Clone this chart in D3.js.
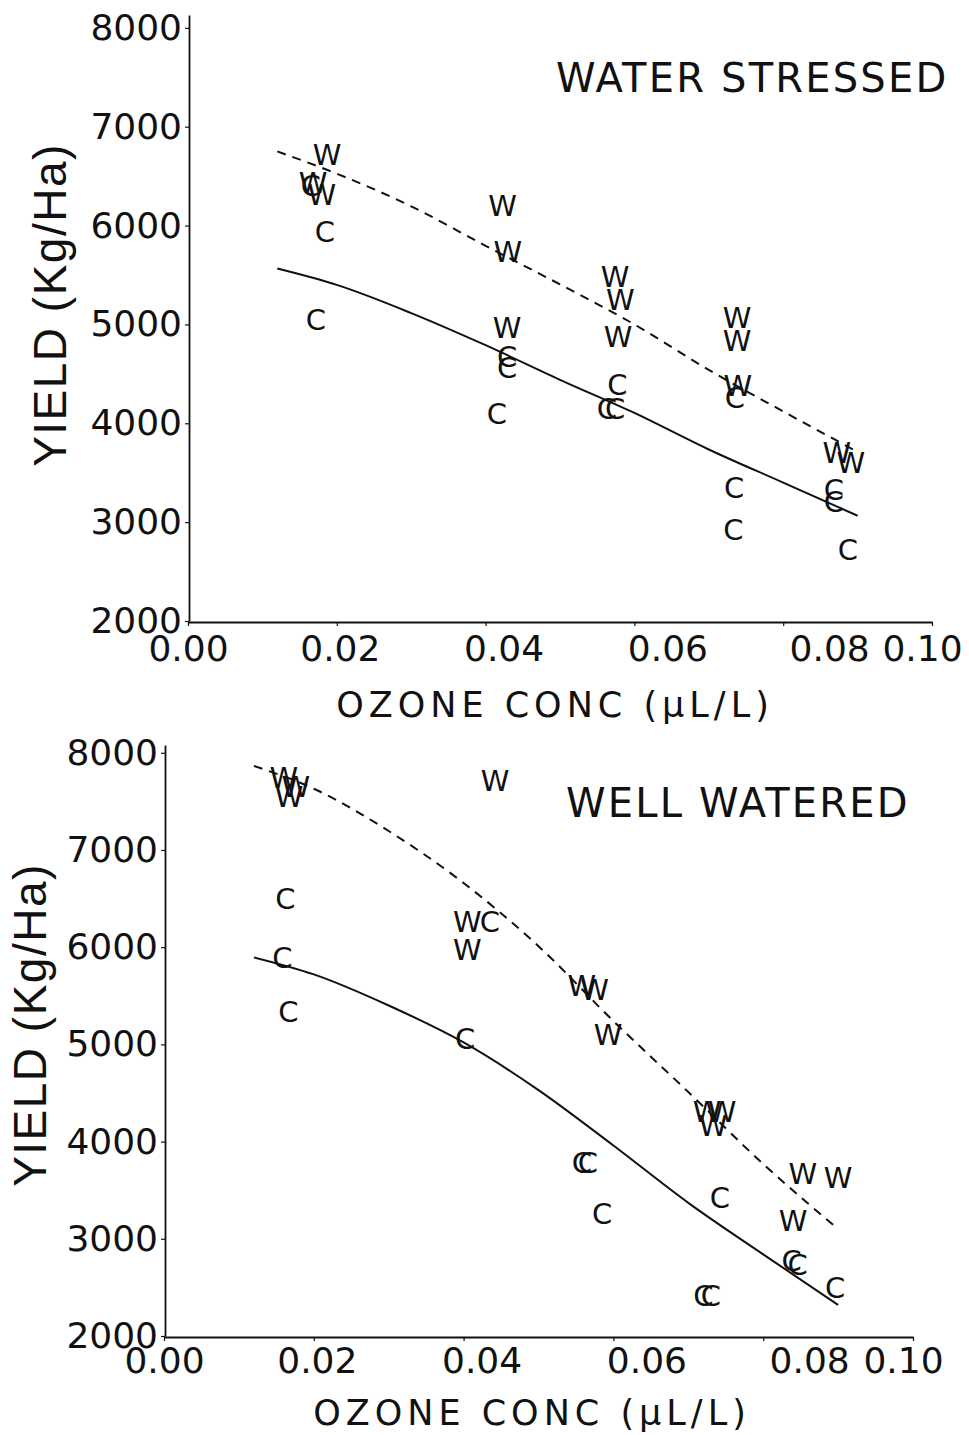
<!DOCTYPE html>
<html>
<head>
<meta charset="utf-8">
<script src="https://cdn.jsdelivr.net/npm/d3@7/dist/d3.min.js"></script>
<style>
  html, body { margin: 0; padding: 0; background: #fff; }
  svg { display: block; }
  text { fill: #111; }
</style>
</head>
<body>
<div id="chart"></div>
<script>
// tick values
const ozoneTicks = [0, 0.02, 0.04, 0.06, 0.08, 0.10]
const yieldTicks = [2000, 3000, 4000, 5000, 6000, 7000, 8000]

// fitted curves (ozone, yield)
const fitOzone = [0.012, 0.02, 0.03, 0.04, 0.05, 0.06, 0.07, 0.08, 0.09]
const stressedFitW = [6750, 6525, 6195, 5795, 5405, 5000, 4540, 4120, 3710]
const stressedFitC = [5565, 5400, 5115, 4790, 4440, 4105, 3735, 3400, 3065]
const wateredFitW = [7865, 7630, 7195, 6660, 6010, 5240, 4510, 3770, 3100]
const wateredFitC = [5895, 5720, 5400, 5020, 4530, 3960, 3370, 2840, 2320]

// observed plots [ozone, yield]
const stressedW = [
  [0.0187, 6720], [0.0168, 6430], [0.0180, 6310],
  [0.0423, 6200], [0.0430, 5735], [0.0429, 4965],
  [0.0574, 5480], [0.0581, 5250], [0.0578, 4875],
  [0.0738, 5065], [0.0738, 4835], [0.0739, 4380],
  [0.0872, 3700], [0.0891, 3600],
]
const stressedC = [
  [0.0165, 6400], [0.0184, 5940], [0.0172, 5045],
  [0.0429, 4670], [0.0429, 4560], [0.0415, 4095],
  [0.0577, 4390], [0.0563, 4145], [0.0574, 4145],
  [0.0735, 4265], [0.0734, 3345], [0.0733, 2920],
  [0.0868, 3325], [0.0868, 3205], [0.0887, 2720],
]
const wateredW = [
  [0.0160, 7750], [0.0176, 7650], [0.0167, 7545],
  [0.0442, 7710], [0.0405, 6260], [0.0405, 5980],
  [0.0558, 5610], [0.0575, 5560], [0.0593, 5105],
  [0.0725, 4305], [0.0745, 4305], [0.0733, 4170],
  [0.0853, 3675], [0.0900, 3635], [0.0840, 3185],
]
const wateredC = [
  [0.0162, 6505], [0.0158, 5890], [0.0166, 5335],
  [0.0435, 6260], [0.0402, 5065],
  [0.0558, 3780], [0.0566, 3780], [0.0585, 3255],
  [0.0742, 3420], [0.0720, 2420], [0.0730, 2420],
  [0.0838, 2780], [0.0846, 2730], [0.0896, 2495],
]

// labels in the scan drift a bit from their ticks
const tickLabelShift = [0, 3, 18, 33, 46, -10]

const width = 969
const height = 1435

const svg = d3.select('#chart').append('svg')
  .attr('width', width)
  .attr('height', height)
  .attr('viewBox', [0, 0, width, height])

svg.append('rect').attr('width', width).attr('height', height).attr('fill', '#fff')

const panels = [
  {
    title: 'WATER STRESSED', w: stressedW, c: stressedC, fitW: stressedFitW, fitC: stressedFitC,
    xRange: [188, 932], yRange: [621, 15], yMax: 8130,
    titleX: 556, titleY: 92, xTitleX: 555, xTitleY: 717, yTitleX: 50, yTitleY: 305, labelPad: 9,
  },
  {
    title: 'WELL WATERED', w: wateredW, c: wateredC, fitW: wateredFitW, fitC: wateredFitC,
    xRange: [164, 913], yRange: [1336, 745], yMax: 8080,
    titleX: 566, titleY: 817, xTitleX: 532, xTitleY: 1425, yTitleX: 30, yTitleY: 1025, labelPad: 6,
  },
]

panels.forEach((p) => {
  const x = d3.scaleLinear().domain([0, 0.10]).range(p.xRange)
  const y = d3.scaleLinear().domain([2000, p.yMax]).range(p.yRange)
  const g = svg.append('g')

  // x axis
  const gx = g.append('g')
    .attr('transform', `translate(0 ${p.yRange[0] + 1})`)
    .call(d3.axisBottom(x).tickValues(ozoneTicks).tickFormat(d3.format('.2f'))
      .tickSize(4).tickSizeOuter(0).tickPadding(p.labelPad))
  gx.selectAll('text').attr('dx', (d, i) => tickLabelShift[i])

  // y axis
  g.append('g')
    .attr('transform', `translate(${p.xRange[0] + 1} 0)`)
    .call(d3.axisLeft(y).tickValues(yieldTicks).tickFormat(d3.format('d'))
      .tickSize(4).tickSizeOuter(0).tickPadding(3))

  g.selectAll('.domain').attr('stroke', '#111').attr('stroke-width', 1.8)
  g.selectAll('.tick line').attr('stroke', '#111').attr('stroke-width', 1.2)
  g.selectAll('.tick text')
    .attr('font-family', 'DejaVu Sans')
    .attr('font-size', 36)
    .attr('fill', '#111')

  // fitted lines
  const line = d3.line().x((d) => x(d[0])).y((d) => y(d[1])).curve(d3.curveMonotoneX)
  g.append('path')
    .datum(fitOzone.map((o, i) => [o, p.fitW[i]]))
    .attr('d', line)
    .attr('fill', 'none')
    .attr('stroke', '#111')
    .attr('stroke-width', 2)
    .attr('stroke-dasharray', '9 7')
  g.append('path')
    .datum(fitOzone.map((o, i) => [o, p.fitC[i]]))
    .attr('d', line)
    .attr('fill', 'none')
    .attr('stroke', '#111')
    .attr('stroke-width', 2)

  // plotted letters
  const marks = [['W', p.w], ['C', p.c]]
  marks.forEach(([letter, pts]) => {
    g.append('g')
      .selectAll('text')
      .data(pts)
      .join('text')
      .attr('x', (d) => x(d[0]))
      .attr('y', (d) => y(d[1]))
      .attr('dy', '0.36em')
      .attr('text-anchor', 'middle')
      .attr('font-family', 'DejaVu Sans')
      .attr('font-size', 29)
      .text(letter)
  })

  // titles
  g.append('text')
    .attr('x', p.titleX)
    .attr('y', p.titleY)
    .attr('font-family', 'DejaVu Sans')
    .attr('font-size', 40)
    .attr('letter-spacing', 2.2)
    .text(p.title)

  g.append('text')
    .attr('x', p.xTitleX)
    .attr('y', p.xTitleY)
    .attr('text-anchor', 'middle')
    .attr('font-family', 'DejaVu Sans')
    .attr('font-size', 35)
    .attr('letter-spacing', 5)
    .text('OZONE CONC (\u03BCL/L)')

  g.append('text')
    .attr('transform', `translate(${p.yTitleX} ${p.yTitleY}) rotate(-90)`)
    .attr('text-anchor', 'middle')
    .attr('dy', '0.35em')
    .attr('font-family', 'Liberation Sans')
    .attr('font-size', 46)
    .attr('letter-spacing', 1.5)
    .text('YIELD (Kg/Ha)')
})
</script>
</body>
</html>
